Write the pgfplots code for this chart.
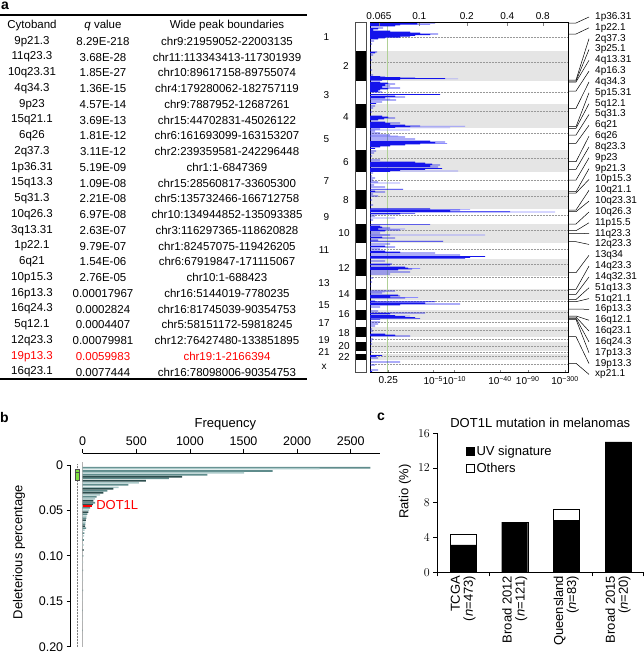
\documentclass[border=0pt]{standalone}
\usepackage{fontspec}
\setmainfont{Liberation Sans}
\usepackage{pgfplots}
\pgfplotsset{compat=1.18}
\usepgfplotslibrary{statistics}
\definecolor{bmed}{RGB}{95,140,140}
\definecolor{blight}{RGB}{172,202,202}
\definecolor{bdark}{RGB}{45,78,78}
\definecolor{bandgray}{RGB}{229,229,229}
\definecolor{qgreen}{RGB}{176,208,150}
\definecolor{lblue}{RGB}{140,140,255}
\definecolor{dblue}{RGB}{20,20,235}
\definecolor{boxgreen}{RGB}{128,224,64}
\newcommand\fs[1]{\fontsize{#1}{#1}\selectfont}
\pgfplotsset{sqlegend/.style={legend image code/.code={\draw[##1,line width=0.6pt] (0pt,-3.8pt) rectangle (7.6pt,3.8pt);}}}
\begin{document}
\begin{tikzpicture}
\useasboundingbox (0pt,0pt) rectangle (644pt,-653pt);
% ---------------- panel a : table ----------------
\begin{scope}[x=1pt,y=-1pt]
\node[anchor=north west,inner sep=0pt,font=\fs{14}\bfseries] at (1,2) {a};
\draw[line width=1.2pt] (0,15) -- (307,15);
\draw[line width=1.2pt] (0,379) -- (307,379);
\begin{scope}[every node/.style={font=\fs{11.5},inner sep=0pt}]
\node at (32,25.7) {Cytoband};
\node at (103,25.7) {\textit{q} value};
\node at (227,25.7) {Wide peak boundaries};
\foreach \i/\a/\b/\c/\col in {
0/9p21.3/8.29E-218/chr9:21959052-22003135/black,
1/11q23.3/3.68E-28/chr11:113343413-117301939/black,
2/10q23.31/1.85E-27/chr10:89617158-89755074/black,
3/4q34.3/1.36E-15/chr4:179280062-182757119/black,
4/9p23/4.57E-14/chr9:7887952-12687261/black,
5/15q21.1/3.69E-13/chr15:44702831-45026122/black,
6/6q26/1.81E-12/chr6:161693099-163153207/black,
7/2q37.3/3.11E-12/chr2:239359581-242296448/black,
8/1p36.31/5.19E-09/chr1:1-6847369/black,
9/15q13.3/1.09E-08/chr15:28560817-33605300/black,
10/5q31.3/2.21E-08/chr5:135732466-166712758/black,
11/10q26.3/6.97E-08/chr10:134944852-135093385/black,
12/3q13.31/2.63E-07/chr3:116297365-118620828/black,
13/1p22.1/9.79E-07/chr1:82457075-119426205/black,
14/6q21/1.54E-06/chr6:67919847-171115067/black,
15/10p15.3/2.76E-05/chr10:1-688423/black,
16/16p13.3/0.00017967/chr16:5144019-7780235/black,
17/16q24.3/0.0002824/chr16:81745039-90354753/black,
18/5q12.1/0.0004407/chr5:58151172-59818245/black,
19/12q23.3/0.00079981/chr12:76427480-133851895/black,
20/19p13.3/0.0059983/chr19:1-2166394/red,
21/16q23.1/0.0077444/chr16:78098006-90354753/black}{
\pgfmathsetmacro\yy{41.3+\i*15.75}
\node[text=\col] at (32,\yy) {\a};
\node[text=\col] at (103,\yy) {\b};
\node[text=\col] at (227,\yy) {\c};
}
\end{scope}
% ---------------- panel a : GISTIC decorations ----------------
\foreach \ya/\yb in {51/81,104.3/128,150/172.3,190/209,224.3/242.7,259.3/276,289/300,310/320,327.3/337.3,342.3/351,354.3/360}{
\fill[bandgray] (370,\ya) rectangle (568.3,\yb);
\fill[black] (355.7,\ya) rectangle (366.7,\yb);
}
\foreach \yc in {37.3,62.3,92.3,111,133.3,158.3,180,196.5,215,230.7,249.3,264,277.5,290,301,312.7,322.7,330,339.3,346,352.7,356.5,364.3}{
\draw[gray!80, densely dotted, line width=0.5pt] (370,\yc) -- (568.3,\yc);
}
\draw[line width=0.9pt, gray!60!black] (355.7,22.7) rectangle (366.7,372.7);
\draw[qgreen, line width=0.9pt] (387.7,22.7) -- (387.7,372.7);
\foreach \n/\x/\y in {1/326.5/37,2/346/66,3/326.5/95,4/346/117,5/326.5/139,6/346/162,7/326.5/181,8/346/200,9/326.5/217,10/344/233,11/324/250,12/344/268,13/324/283,14/344/294,15/324/305,16/344/314,17/324/323,18/344/333,19/324/340,20/344/346,21/324/352,22/344/357,x/324/367}{
\node[font=\fs{10},inner sep=0pt] at (\x,\y) {\n};
}
\end{scope}
% ---------------- panel a : GISTIC profile ----------------
\begin{axis}[at={(370pt,-22.7pt)}, anchor=north west, width=198.3pt, height=350pt, scale only axis,
 xmin=0, xmax=198.3, ymin=22.7, ymax=372.7, y dir=reverse,
 xtick={18.3,63.3,84.3,130,157.7,195},
 xticklabels={0.25,10\textsuperscript{−5},10\textsuperscript{−10},10\textsuperscript{−40},10\textsuperscript{−90},10\textsuperscript{−300}},
 xtick pos=left, ytick=\empty, tick align=inside, major tick length=3pt,
 xticklabel style={font=\fs{10}}, axis line style={line width=0.8pt}]
\addplot[xbar, bar width=0.6pt, bar shift=0pt, fill=lblue, draw=none] coordinates {
(88,78.8)(95,126.2)(80,127.8)(77,143.5)(88,171)(185,212)(100,209.3)(115,235)(35,229)(50,268.5)(48,297.5)(25,218)(40,130)(30,183)(60,24.5)(45,257)(20,99)(28,136)(15,292)(40,316)};
\addplot[xbar, bar width=0.6pt, bar shift=0pt, fill=dblue, draw=none] coordinates {
(65,23)(47,24)(30,25)(25,26)(13,28)(8,29)(3,30)(20,31)(40,32)(50,33)(68,34)(60,34.8)(45,35.6)(40,36.4)(30,37.2)(15,38)(8,39)(4,41)(2,44)(1,48)
(7,52)(5,53)(3,55)(2,60)(1,65)(2,70)(3,75)(10,76.5)(15,77)(30,77.5)(45,78)(75,78.5)(20,79)(30,79.5)(12,80.2)
(10,82)(18,83)(25,84)(15,85)(20,86)(12,87)(30,88)(18,89)(10,90)(8,91)(12,92)(70,94.5)(25,96)(35,97)(15,98)(26,100)(12,102)(6,103.5)
(5,106)(3,108)(2,112)(12,116)(18,117)(25,118)(14,119)(8,120)(15,122)(30,123)(20,124)(35,125)(50,126)(40,126.8)(25,127.5)
(10,129)(5,131)(10,133)(20,135)(35,137)(45,139)(60,141)(75,142)(65,143)(50,144)(35,145)(20,146)(10,147)(5,148.5)
(6,151)(4,153)(2,156)(10,160)(45,162)(55,163)(62,164)(70,165)(60,166)(68,167)(72,168.5)(55,169.5)(30,170.5)(20,171.5)
(3,173)(2,176)(5,178)(3,180)(8,182)(4,185)(15,187)(33,189.2)
(5,191)(15,192)(3,194)(8,196)(2,200)(3,205)
(60,208.7)(90,210)(80,210.7)(140,211.7)(45,213.3)(30,214)(5,216)(3,220)(60,224.3)
(10,226)(12,227)(20,228)(8,229)(30,230)(15,231)(10,233)(20,235)(12,237)(25,238)(8,240)(73,241.2)
(20,244)(15,246)(25,247)(10,249)(15,251)(30,252)(65,253)(90,255)(115,256.5)(100,257.5)(95,258.3)
(15,261)(22,264)(20,265)(35,267)(38,268)(42,269)(28,270)(40,272)(20,274)
(3,278)(2,282)(1,286)
(25,291)(12,293)(28,295)(30,296)(20,297)(35,298)
(5,301)(65,301.7)(55,303)(90,304)(30,305)(10,307)
(8,311)(55,313)(20,314)(25,315.5)(35,316.5)(45,317.5)(50,318.3)(10,319.3)
(10,322)(8,324)(5,326)
(2,329)(3,331)(15,334)(25,335)(40,336)
(3,339)(2,341)(2,344)(1,348)(2,352)
(12,355.5)(6,356.5)(8,358)
(30,362)(5,365)(8,370)(2,371.5)};
\end{axis}
\begin{axis}[at={(370pt,-22.7pt)}, anchor=north west, width=198.3pt, height=350pt, scale only axis,
 xmin=0, xmax=198.3, ymin=22.7, ymax=372.7, y dir=reverse, hide y axis, axis x line*=top,
 xtick={9,49.3,96.7,137.3,172.7}, xticklabels={0.065,0.1,0.2,0.4,0.8},
 tick align=inside, major tick length=3pt, xticklabel style={font=\fs{10}}, axis line style={line width=0.8pt}]
\addplot[draw=none] coordinates {(0,30)};
\end{axis}
\begin{scope}[x=1pt,y=-1pt]
\foreach \i/\lab/\s in {0/1p36.31/23,1/1p22.1/34,2/2q37.3/80,3/3p25.1/81,4/4q13.31/82,5/4p16.3/91,6/4q34.3/108.3,7/5p15.31/126.7,8/5q12.1/128.3,9/5q31.3/135,10/6q21/143.3,11/6q26/161.7,12/8q23.3/169.3,13/9p23/180,14/9p21.3/191.7,15/10p15.3/193,16/10q21.1/210,17/10q23.31/211.7,18/10q26.3/224,19/11p15.5/230.7,20/11q23.3/233.3,21/12q23.3/241.7,22/13q34/272.7,23/14q23.3/289.3,24/14q32.31/294.3,25/51q13.3/299.5,26/51q21.1/301.7,27/16p13.3/309,28/16q12.1/316,29/16q23.1/317,30/16q24.3/318.3,31/17p13.3/319.5,32/19p13.3/336.7,33/xp21.1/363.3}{
\pgfmathsetmacro\lY{17+\i*10.83}
\draw[line width=0.5pt] (568.3,\s) -- (576,\s) -- (589,\lY);
\node[anchor=west,font=\fs{10},inner sep=0pt] at (595,\lY) {\lab};
}
% panel labels b, c, titles and y labels
\node[anchor=west,inner sep=0pt,font=\fs{14}\bfseries] at (0,417) {b};
\node[anchor=west,inner sep=0pt,font=\fs{14}\bfseries] at (377,417) {c};
\node[font=\fs{13},inner sep=0pt] at (540.3,422.7) {DOT1L mutation in melanomas};
\node[font=\fs{13},inner sep=0pt,rotate=90] at (19,552) {Deleterious percentage};
\node[font=\fs{13},inner sep=0pt,rotate=90] at (405,491.7) {Ratio (\%)};
\end{scope}
% ---------------- panel b ----------------
\begin{axis}[at={(70.7pt,-453pt)}, anchor=north west, width=309.3pt, height=193.7pt, scale only axis,
 xmin=-111.9, xmax=2773, ymin=-0.0132, ymax=0.2, y dir=reverse,
 axis x line*=top, axis y line*=left, axis line style={draw=none},
 xtick={0,500,1000,1500,2000,2500}, xticklabels={0,500,1000,1500,2000,2500},
 ytick={0,0.05,0.1,0.15,0.2}, yticklabels={0,0.05,0.10,0.15,0.20},
 tick align=outside, major tick length=4pt, tick style={black,line width=0.8pt},
 ticklabel style={font=\fs{12.5}},
 xlabel={Frequency}, xlabel style={font=\fs{13}},
 clip=false]
\draw[line width=0.8pt] (axis cs:0,-0.0132) -- (axis cs:2773,-0.0132);
\draw[line width=0.8pt] (axis cs:-111.9,0) -- (axis cs:-111.9,0.2);
\draw[gray!60, line width=0.6pt] (axis cs:0,-0.003) -- (axis cs:0,0.2);
\addplot[boxplot prepared={draw position=-50, lower whisker=-0.001, lower quartile=0.0048, median=0.0075, upper quartile=0.0165, upper whisker=0.2, box extend=45, whisker extend=0, draw direction=y},
 fill=boxgreen, draw=black!70, line width=0.5pt,
 /pgfplots/boxplot/every whisker/.style={densely dotted, gray}] coordinates {};
\addplot[xbar, bar width=1.6pt, bar shift=0pt, fill=bmed, draw=none] coordinates {
(2684,0.0030)(1772,0.0066)(1162,0.0107)(803,0.0146)(425,0.0217)(231,0.0283)(131,0.0349)(115,0.0415)(69,0.047)(44,0.054)(35,0.0584)(25,0.065)(31,0.0694)(15,0.0749)(10,0.0826)(6,0.1)(4,0.116)(3,0.138)(2,0.16)(1,0.182)};
\addplot[xbar, bar width=1.6pt, bar shift=0pt, fill=blight, draw=none] coordinates {
(2209,0.0040)(1506,0.0085)(525,0.0195)(334,0.0246)(162,0.0327)(115,0.0371)(59,0.0496)(37,0.0562)(27,0.0628)(18,0.0716)(13,0.078)(9,0.088)(5,0.107)(3,0.127)(2,0.149)(1,0.171)};
\addplot[xbar, bar width=1.6pt, bar shift=0pt, fill=bdark, draw=none] coordinates {
(928,0.0129)(590,0.0173)(287,0.0261)(193,0.0305)(100,0.0393)(95,0.0433)(53,0.0518)(30,0.0606)(22,0.0672)(8,0.0936)};
\addplot[xbar, bar width=1.6pt, bar shift=0pt, fill=red, draw=none] coordinates {(84,0.0452)};
\node[text=red, anchor=west, font=\fs{13}, inner sep=0pt] at (axis cs:125,0.0445) {DOT1L};
\end{axis}
% ---------------- panel c ----------------
\begin{axis}[at={(437.3pt,-572.3pt)}, anchor=south west, width=206pt, height=139pt, scale only axis,
 xmin=437.3, xmax=643.3, ymin=0, ymax=16,
 axis x line*=bottom, axis y line*=left, axis line style={line width=0.8pt,-},
 ytick={0,4,8,12,16}, tick align=outside, major tick length=4pt, tick style={black,line width=0.8pt},
 xtick={437.3,489.6,592,643.3}, xticklabels={},
 extra x ticks={463.3,514.7,566.2,618},
 extra x tick labels={TCGA\\(\textit{n}=473),Broad 2012\\(\textit{n}=121),Queensland\\(\textit{n}=83),Broad 2015\\(\textit{n}=20)},
 extra x tick style={major tick length=0pt, xticklabel style={rotate=90, anchor=east, align=right, font=\fs{13}}},
 yticklabel style={font=\fs{12.5}},
 ybar stacked, bar width=26,
 legend style={draw=none, fill=none, at={(0.14,0.925)}, anchor=north west, font=\fs{13}, row sep=2pt, inner sep=0pt},
 legend cell align=left]
\addplot[fill=black, draw=black, sqlegend] coordinates {(463.3,3.17)(514.7,5.79)(566.2,6.02)(618,15)};
\addplot[fill=white, draw=black, sqlegend] coordinates {(463.3,1.27)(514.7,0)(566.2,1.21)(618,0)};
\addlegendentry{UV signature}
\addlegendentry{Others}
\end{axis}
\end{tikzpicture}
\end{document}
